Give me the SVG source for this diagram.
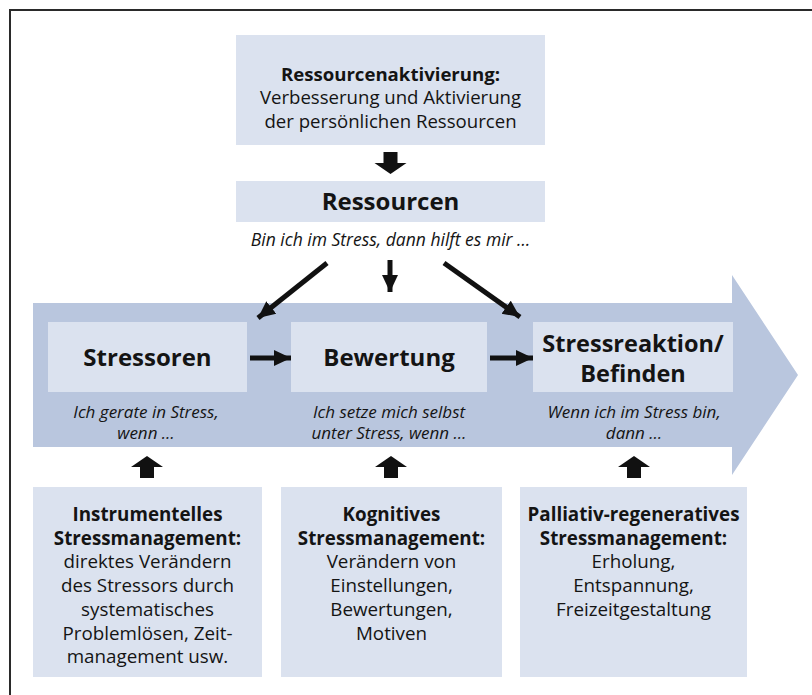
<svg xmlns="http://www.w3.org/2000/svg" width="812" height="695" viewBox="0 0 812 695">
<defs>
<marker id="ah" markerUnits="userSpaceOnUse" markerWidth="18" markerHeight="18" viewBox="0 0 18 18" refX="17" refY="9" orient="auto">
<path d="M0,1 L17,9 L0,17 Z" fill="#111"/>
</marker>
</defs>
<style>
.box{fill:#dbe2ef}
.band{fill:#b9c6de}
text{font-family:"Open Sans","Noto Sans","Liberation Sans",sans-serif;fill:#141414;text-anchor:middle}
.t1{font-size:24px;font-weight:bold}
.t2{font-size:23.5px;font-weight:bold}
.b{font-weight:bold}
.r18{font-size:18.6px}
.r19{font-size:18.8px}
.it{font-size:17px;font-style:italic}
.it2{font-size:17.5px;font-style:italic}
.ln{stroke:#111;stroke-width:5;fill:none}
.blk{fill:#111}
</style>
<rect width="812" height="695" fill="#fff"/>
<path d="M10,700 V10 H815" fill="none" stroke="#2a2a2a" stroke-width="2"/>

<g id="band">
<polygon class="band" points="33,303 732,303 732,275 798,375 732,475 732,447 33,447"/>
</g>

<g id="ressourcenaktivierung">
<rect class="box" x="236" y="35" width="309" height="110"/>
<text class="r18" x="390.5" y="80.5"><tspan class="b" x="390.5">Ressourcenaktivierung:</tspan><tspan x="390.5" dy="23.5">Verbesserung und Aktivierung</tspan><tspan x="390.5" dy="23.5">der persönlichen Ressourcen</tspan></text>
</g>

<g id="ressourcen">
<rect class="box" x="236" y="181" width="309" height="41"/>
<text class="t1" x="390.5" y="210">Ressourcen</text>
<text class="it2" x="390.5" y="246">Bin ich im Stress, dann hilft es mir …</text>
</g>

<g id="stressoren">
<rect class="box" x="48" y="322" width="199" height="70"/>
<text class="t1" x="147.5" y="366">Stressoren</text>
<text class="it" x="146" y="417.5"><tspan x="146">Ich gerate in Stress,</tspan><tspan x="146" dy="21.5">wenn …</tspan></text>
</g>

<g id="bewertung">
<rect class="box" x="291" y="322" width="196" height="70"/>
<text class="t1" x="389" y="366">Bewertung</text>
<text class="it" x="389" y="417.5"><tspan x="389">Ich setze mich selbst</tspan><tspan x="389" dy="21.5">unter Stress, wenn …</tspan></text>
</g>

<g id="stressreaktion">
<rect class="box" x="533" y="322" width="200" height="70"/>
<text class="t2" x="633" y="351.5"><tspan x="633">Stressreaktion/</tspan><tspan x="633" dy="30">Befinden</tspan></text>
<text class="it" x="634" y="417.5"><tspan x="634">Wenn ich im Stress bin,</tspan><tspan x="634" dy="21.5">dann …</tspan></text>
</g>

<g id="instrumentelles">
<rect class="box" x="33" y="487" width="229" height="190"/>
<text class="r19" x="147.5" y="521"><tspan class="b" x="147.5">Instrumentelles</tspan><tspan class="b" x="147.5" dy="23.7">Stressmanagement:</tspan><tspan x="147.5" dy="23.7">direktes Verändern</tspan><tspan x="147.5" dy="23.7">des Stressors durch</tspan><tspan x="147.5" dy="23.7">systematisches</tspan><tspan x="147.5" dy="23.7">Problemlösen, Zeit-</tspan><tspan x="147.5" dy="23.7">management usw.</tspan></text>
</g>

<g id="kognitives">
<rect class="box" x="281" y="487" width="221" height="190"/>
<text class="r19" x="391.5" y="521"><tspan class="b" x="391.5">Kognitives</tspan><tspan class="b" x="391.5" dy="23.7">Stressmanagement:</tspan><tspan x="391.5" dy="23.7">Verändern von</tspan><tspan x="391.5" dy="23.7">Einstellungen,</tspan><tspan x="391.5" dy="23.7">Bewertungen,</tspan><tspan x="391.5" dy="23.7">Motiven</tspan></text>
</g>

<g id="palliativ">
<rect class="box" x="520" y="487" width="227" height="190"/>
<text class="r19" x="633.5" y="521"><tspan class="b" x="633.5">Palliativ-regeneratives</tspan><tspan class="b" x="633.5" dy="23.7">Stressmanagement:</tspan><tspan x="633.5" dy="23.7">Erholung,</tspan><tspan x="633.5" dy="23.7">Entspannung,</tspan><tspan x="633.5" dy="23.7">Freizeitgestaltung</tspan></text>
</g>

<g id="connectors">
<polygon class="blk" points="383.5,152 397.5,152 397.5,163 406.5,163 390.5,174 374.5,163 383.5,163"/>
<line class="ln" x1="390" y1="260" x2="390" y2="292" marker-end="url(#ah)"/>
<line class="ln" x1="327" y1="263" x2="258" y2="318" marker-end="url(#ah)"/>
<line class="ln" x1="444" y1="263" x2="520" y2="317" marker-end="url(#ah)"/>
<line class="ln" x1="250" y1="358" x2="291" y2="358" marker-end="url(#ah)"/>
<line class="ln" x1="490" y1="358" x2="533" y2="358" marker-end="url(#ah)"/>
<polygon class="blk" points="140,478 154,478 154,467 163,467 147,456 131,467 140,467"/>
<polygon class="blk" points="384,478 398,478 398,467 407,467 391,456 375,467 384,467"/>
<polygon class="blk" points="627,478 641,478 641,467 650,467 634,456 618,467 627,467"/>
</g>
</svg>
